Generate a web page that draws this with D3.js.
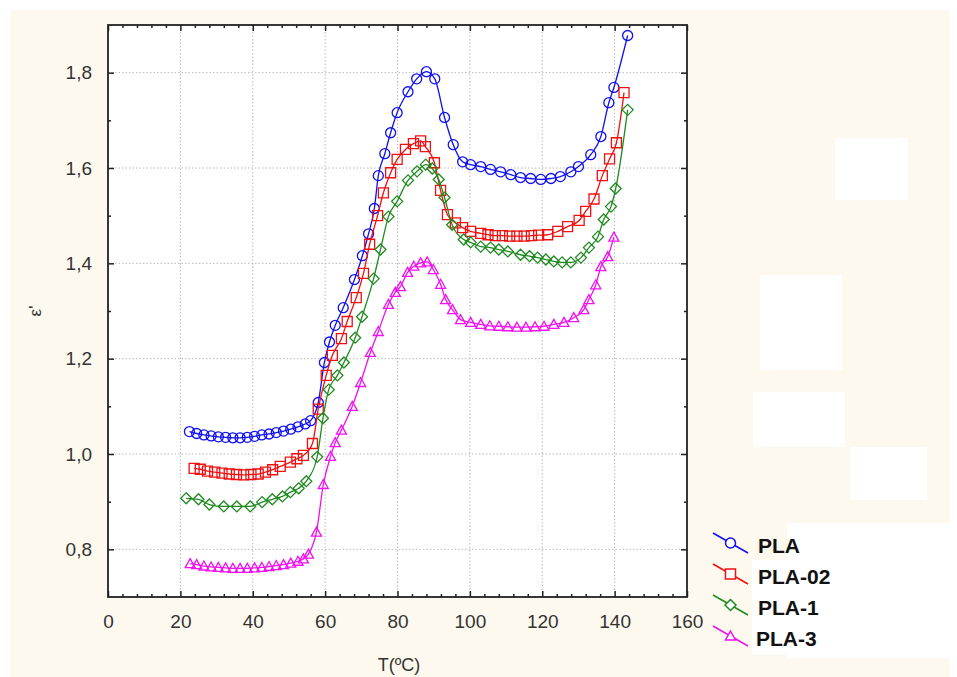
<!DOCTYPE html>
<html><head><meta charset="utf-8">
<script src="https://cdn.jsdelivr.net/npm/d3@7"></script>
<style>
html,body{margin:0;padding:0;background:#fff;}
svg{display:block;font-family:"Liberation Sans",Arial,sans-serif;}
</style></head>
<body><svg id="c" width="957" height="677"></svg>
<script>
// ---------- data ----------
const seriesNames = ["PLA","PLA-02","PLA-1","PLA-3"];
const xTicks = [0,20,40,60,80,100,120,140,160];
const yTicks = [0.8,1.0,1.2,1.4,1.6,1.8];

const plaT = [22.5,24.5,26.5,28.5,30.5,32.5,34.5,36.5,38.5,40.5,42.5,44.5,46.5,48.5,50.5,52.5,54.5,56,58.1,59.8,61.2,62.8,65,68.1,70.3,72,73.6,74.7,76.5,78.1,79.9,82.9,85.3,88,90.3,93,95.4,98,100.2,103,105.7,108.5,111.3,114,116.8,119.6,122.4,125,127.9,130,133.4,136.2,138.4,139.8,143.6];
const plaV = [1.047,1.043,1.040,1.038,1.036,1.035,1.034,1.034,1.035,1.037,1.040,1.042,1.045,1.048,1.052,1.057,1.063,1.070,1.108,1.192,1.235,1.270,1.307,1.366,1.416,1.462,1.515,1.584,1.630,1.674,1.716,1.760,1.787,1.802,1.787,1.706,1.649,1.613,1.607,1.603,1.597,1.592,1.586,1.580,1.578,1.576,1.578,1.582,1.592,1.603,1.628,1.666,1.737,1.769,1.878];

const pla02T = [23.8,25.5,27.5,29.5,31.5,33.5,35.5,37.5,39.5,41.5,43.5,45.5,47.6,50.4,52.2,54,56.5,58.1,60.3,62,64.5,66.1,68.6,70.6,72.3,74.5,76.1,78.1,79.9,82.2,84.4,86.4,87.7,90.2,91.9,93.8,96,98,100.2,103,105,107,109,111,113,115,117,119,121.5,124.3,127,130.2,132,134.3,136.6,138.6,140.5,142.6];
const pla02V = [0.970,0.968,0.964,0.962,0.960,0.958,0.957,0.956,0.957,0.958,0.962,0.967,0.974,0.983,0.990,0.997,1.022,1.094,1.165,1.207,1.242,1.278,1.328,1.379,1.440,1.500,1.548,1.590,1.618,1.639,1.651,1.657,1.645,1.611,1.553,1.502,1.485,1.475,1.467,1.463,1.460,1.458,1.458,1.457,1.457,1.457,1.458,1.459,1.460,1.467,1.477,1.490,1.509,1.535,1.584,1.619,1.653,1.758];

const pla1T = [21.6,25,28,32,35.6,39.3,42.6,45.4,48.2,50.4,52.7,54.8,57.8,59.4,61,63.4,65.2,68.3,70.2,73.4,75.3,77.5,79.9,82.9,85.4,87.8,89.6,91.4,93,95.1,98.3,100.2,103,105.7,108,110.5,114,116.5,118.7,121,123.2,125.5,127.9,130.7,132.9,135.4,137,139,140.3,143.6];
const pla1V = [0.907,0.905,0.894,0.890,0.890,0.890,0.899,0.905,0.911,0.920,0.928,0.943,0.994,1.075,1.135,1.165,1.192,1.244,1.288,1.368,1.429,1.498,1.530,1.574,1.593,1.607,1.599,1.576,1.538,1.481,1.450,1.444,1.435,1.433,1.429,1.425,1.418,1.415,1.412,1.408,1.404,1.402,1.402,1.412,1.433,1.456,1.492,1.519,1.557,1.722];

const pla3T = [22.7,24.5,26.5,28.5,30.5,32.5,34.5,36.5,38.5,40.5,42.5,44.5,46.5,48.5,50.5,52.5,54,55.4,57.6,59.5,61.5,62.8,64.5,67.5,69.8,72.5,74.7,77.5,79.4,80.8,82.8,84.5,86.4,88.2,89.9,91.9,93.3,95.2,97.4,100.2,103,105.5,108,110.5,113,115.5,118,120.5,123.2,126,128.7,131.5,132.9,134.8,136.2,138.1,139.8];
const pla3V = [0.770,0.768,0.765,0.763,0.762,0.761,0.760,0.760,0.760,0.761,0.762,0.764,0.766,0.768,0.771,0.775,0.780,0.790,0.836,0.936,0.995,1.024,1.050,1.100,1.150,1.213,1.257,1.314,1.339,1.351,1.381,1.394,1.401,1.403,1.387,1.356,1.324,1.303,1.282,1.276,1.272,1.269,1.268,1.267,1.266,1.266,1.267,1.268,1.272,1.276,1.286,1.303,1.324,1.355,1.393,1.414,1.455];

const seriesT = [plaT, pla02T, pla1T, pla3T];
const seriesV = [plaV, pla02V, pla1V, pla3V];
const colors = ["#1010f0","#f01010","#1f8a1f","#f010f0"];
const shapes = ["circle","square","diamond","triangle"];

// ---------- layout ----------
const svg = d3.select("#c");
const L = 108, R = 687, T = 25, B = 597;
const x = d3.scaleLinear().domain([0,160]).range([L,R]);
const y = d3.scaleLinear().domain([0.7,1.9]).range([B,T]);

// background
svg.append("rect").attr("x",10).attr("y",10).attr("width",940).attr("height",667).attr("fill","#fdf9ee");
// white patches (scan artifacts)
const patches = [[835,138,73,62],[760,275,82,95],[753,392,92,55],[850,447,77,53],[787,523,163,135],[752,560,40,95]];
svg.append("g").selectAll("rect").data(patches).join("rect")
  .attr("x",d=>d[0]).attr("y",d=>d[1]).attr("width",d=>d[2]).attr("height",d=>d[3]).attr("fill","#ffffff");

// plot area
svg.append("rect").attr("x",L).attr("y",T).attr("width",R-L).attr("height",B-T).attr("fill","#fff");

// grid
const grid = svg.append("g");
grid.selectAll("line.gx").data(xTicks.slice(1,-1)).join("line")
  .attr("x1",d=>x(d)).attr("x2",d=>x(d)).attr("y1",T).attr("y2",B)
  .attr("stroke","#b8b8b8").attr("stroke-width",1).attr("stroke-dasharray","1.5,2");
grid.selectAll("line.gy").data(yTicks).join("line")
  .attr("y1",d=>y(d)).attr("y2",d=>y(d)).attr("x1",L).attr("x2",R)
  .attr("stroke","#b8b8b8").attr("stroke-width",1).attr("stroke-dasharray","1.5,2");

// axes with inside ticks
const tickColor = "#222";
function styleAxis(g){
  g.select(".domain").remove();
  g.selectAll(".tick line").attr("stroke",tickColor).attr("stroke-width",1.5);
}
const xMinor = d3.range(0,161,4).filter(v=>v%20!==0);
const yMinor = [0.7,0.9,1.1,1.3,1.5,1.7,1.9].filter(v=>v>0.7&&v<1.9);

const xb = svg.append("g").attr("transform",`translate(0,${B})`)
  .call(d3.axisBottom(x).tickValues(xTicks).tickSize(-6).tickPadding(18).tickFormat(d3.format("d")));
styleAxis(xb);
xb.selectAll(".tick text").attr("font-size",19).attr("fill","#333").attr("font-family","Liberation Sans, Arial, sans-serif");
svg.append("g").attr("transform",`translate(0,${B})`)
  .call(d3.axisBottom(x).tickValues(xMinor).tickSize(-3).tickFormat("")).call(styleAxis);
svg.append("g").attr("transform",`translate(0,${T})`)
  .call(d3.axisTop(x).tickValues(xTicks).tickSize(-6).tickFormat("")).call(styleAxis);
svg.append("g").attr("transform",`translate(0,${T})`)
  .call(d3.axisTop(x).tickValues(xMinor).tickSize(-3).tickFormat("")).call(styleAxis);

const fmtY = v => d3.format(".1f")(v).replace(".",",");
const yl = svg.append("g").attr("transform",`translate(${L},0)`)
  .call(d3.axisLeft(y).tickValues(yTicks).tickSize(-6).tickPadding(16).tickFormat(fmtY));
styleAxis(yl);
yl.selectAll(".tick text").attr("font-size",19).attr("fill","#333").attr("font-family","Liberation Sans, Arial, sans-serif");
svg.append("g").attr("transform",`translate(${L},0)`)
  .call(d3.axisLeft(y).tickValues(yMinor).tickSize(-3).tickFormat("")).call(styleAxis);
svg.append("g").attr("transform",`translate(${R},0)`)
  .call(d3.axisRight(y).tickValues(yTicks).tickSize(-6).tickFormat("")).call(styleAxis);
svg.append("g").attr("transform",`translate(${R},0)`)
  .call(d3.axisRight(y).tickValues(yMinor).tickSize(-3).tickFormat("")).call(styleAxis);

// frame
svg.append("rect").attr("x",L).attr("y",T).attr("width",R-L).attr("height",B-T)
  .attr("fill","none").attr("stroke","#222").attr("stroke-width",1.8);

// axis titles
svg.append("text").attr("x",399).attr("y",671).attr("text-anchor","middle")
  .attr("font-size",18).attr("fill","#333").text("T(ºC)");
svg.append("text").attr("transform","translate(41,311) rotate(-90)").attr("text-anchor","middle")
  .attr("font-size",17).attr("fill","#333").text("ε'");

// markers
function markerPath(shape){
  switch(shape){
    case "circle": return "M5,0A5,5 0 1,1 -5,0A5,5 0 1,1 5,0Z";
    case "square": return "M-5,-5H5V5H-5Z";
    case "diamond": return "M0,-5.5L5.5,0L0,5.5L-5.5,0Z";
    case "triangle": return "M0,-5L5,4H-5Z";
  }
}

const line = d3.line().x(d=>x(d[0])).y(d=>y(d[1])).curve(d3.curveMonotoneX);
const plot = svg.append("g");
seriesNames.forEach((name,i)=>{
  const pts = seriesT[i].map((t,k)=>[t,seriesV[i][k]]);
  const g = plot.append("g");
  g.append("path").datum(pts).attr("d",line).attr("fill","none")
    .attr("stroke",colors[i]).attr("stroke-width",1.3);
  g.selectAll("path.m").data(pts).join("path").attr("class","m")
    .attr("transform",d=>`translate(${x(d[0])},${y(d[1])})`)
    .attr("d",markerPath(shapes[i])).attr("fill","none")
    .attr("stroke",colors[i]).attr("stroke-width",1.3);
});

// legend
const leg = svg.append("g");
const legY = [543,574,605,636];
seriesNames.forEach((name,i)=>{
  const cy = legY[i];
  leg.append("line").attr("x1",713).attr("y1",cy-10).attr("x2",748).attr("y2",cy+10)
    .attr("stroke",colors[i]).attr("stroke-width",1.5);
  leg.append("path").attr("transform",`translate(730.5,${cy})`).attr("d",markerPath(shapes[i]))
    .attr("fill","#fff").attr("stroke",colors[i]).attr("stroke-width",1.5);
  leg.append("text").attr("x",i===3?756:758).attr("y",cy+10)
    .attr("font-size",21).attr("font-weight","bold").attr("fill","#111").text(name);
});
</script></body></html>
